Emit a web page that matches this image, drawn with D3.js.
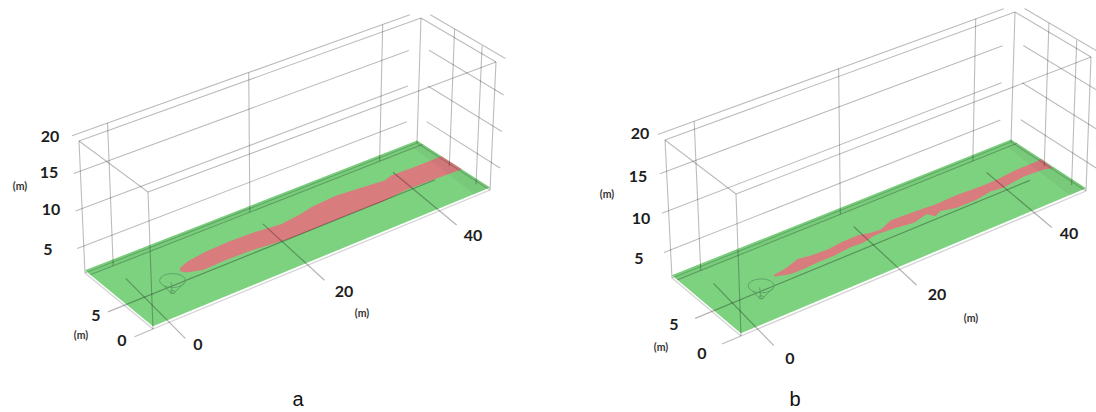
<!DOCTYPE html>
<html><head><meta charset="utf-8">
<script src="https://cdn.jsdelivr.net/npm/d3@7"></script>
<style>html,body{margin:0;padding:0;background:#fff}svg{display:block}</style>
</head><body><svg id="c" width="1096" height="412"></svg>
<script>
// ---- values (metres)
const xTicks = [0, 20, 40];
const yTicks = [0, 5, 10];
const zTicks = [5, 10, 15, 20];
const wallPostsY = [1.5, 6];
const coneAt = [4, 5];

const plumeAX = [6.4,6.7,8.2,11,14.5,18.2,21.9,25.3,27.2,31,34.3,38.1,39.4,43.4,47.3,47.3,43.7,39.2,35.3,31.3,26.2,21.1,16.1,12.3,8.9,6.9];
const plumeAY = [6.3,6.7,7.1,7.4,7.5,7.4,7.1,7.4,7.7,7.9,7.7,7.4,7.7,7.6,7.6,4.95,5.1,5.2,4.9,5,5,5,5.4,5.5,5.4,5.9];
const plumeBX = [6.9,8.8,11,12.7,15,17.2,19.5,21.1,22.5,24.6,27,29.5,30.9,34.1,37.8,40.4,43.1,46.7,47.3,47.1,46.1,43.3,39.8,38.2,35.8,32.8,30.8,29.6,29,26.7,24.4,22.1,21.1,19.3,17.5,14.9,12.6,10.5,8.7,6.9];
const plumeBY = [6.2,6.4,6.9,6.7,6.6,6.8,6.8,6.5,6.4,7,6.9,6.8,6.7,6.8,6.65,6.7,6.9,6.9,7,5.3,5.6,5.75,5.4,5.6,5.3,5.3,5.7,5.35,6,5.6,5.85,6,6,5.7,5.8,5.6,5.6,5.5,5.55,6];

const captions = ["a", "b"];
const unitLabel = "(m)";

// ---- scales: metres -> fraction of the box
const xMin = -2.8, xMax = 47.3, yMax = 10.75, zMin = 2.5, zMax = 20, zFloor = 2.85;
const tScale = d3.scaleLinear().domain([xMin, 0, 20, 40, xMax]).range([0, .057, .468, .858, 1]);
const vScale = d3.scaleLinear().domain([0, 5, 10, yMax]).range([0, .39, .92, 1]);
const hScale = d3.scaleLinear().domain([zMin, zMax]).range([0, 1]);
const skewFade = d3.scaleLinear().domain([0, .05, .95, 1]).range([0, 1, 1, 0]).clamp(true);

// ---- box corners per panel: [x,y] on screen
const panels = [
 {caption:captions[0], capX:298,
  fl:[153,329], fr:[490,190], bl:[85,273], br:[417,143],
  tfl:[148,192], tfr:[496,62], tbl:[79,141], tbr:[421,18],
  plumeX:plumeAX, plumeY:plumeAY,
  labels:[["20",50,135],["15",49,171],["10",51,208],["5",48,248],["5",96,314],["0",122,339],["0",198,343],["20",344,290],["40",473,234]],
  units:[[20,186],[81,335],[362,313]]},
 {caption:captions[1], capX:795,
  fl:[741,336], fr:[1086,191], bl:[672,278], br:[1011,142],
  tfl:[736,194], tfr:[1091,57], tbl:[665,140], tbr:[1015,12],
  plumeX:plumeBX, plumeY:plumeBY,
  labels:[["20",640,132],["15",638,175],["10",641,217],["5",639,257],["5",674,323],["0",702,352],["0",790,357],["20",937,293],["40",1069,232]],
  units:[[607,194],[661,347],[971,318]]}
];

const mix = (a,b,k)=>[a[0]+(b[0]-a[0])*k, a[1]+(b[1]-a[1])*k];
function projector(p){
  return (x,y,z)=>{
    const v = vScale(y), t0 = tScale(x), t = t0 + (v-.5)*.028*skewFade(t0), h = hScale(z);
    const bot = mix(mix(p.fl,p.fr,t), mix(p.bl,p.br,t), v);
    const top = mix(mix(p.tfl,p.tfr,t), mix(p.tbl,p.tbr,t), v);
    return mix(bot,top,h);
  };
}

const svg = d3.select("#c");
const line = d3.line();
const GRID = "#bcbcbc";

panels.forEach(p=>{
  const P = projector(p);
  const g = svg.append("g").style("filter","blur(.45px)");
  const poly = (pts,fill)=>g.append("path").attr("d",line(pts)+"Z").attr("fill",fill);
  const seg = (a,b,w,c)=>g.append("path").attr("d",line([a,b])).attr("fill","none")
      .attr("stroke",c||GRID).attr("stroke-width",w||1.1).style("mix-blend-mode","multiply");

  // floor
  poly([P(xMin,0,zFloor),P(xMax,0,zFloor),P(xMax,yMax,zFloor),P(xMin,yMax,zFloor)],"#7cd27f");
  // plume
  poly(p.plumeX.map((x,i)=>P(x,p.plumeY[i],zFloor)),"#d97c7e");
  // darker strips at the far sides of the floor
  poly([P(xMin,10,zFloor),P(xMax,10,zFloor),P(xMax,yMax,zFloor),P(xMin,yMax,zFloor)],"rgba(50,120,60,.05)");
  poly([P(45.4,0,zFloor),P(xMax,0,zFloor),P(xMax,10,zFloor),P(45.4,10,zFloor)],"rgba(60,70,50,.06)");

  // box
  const B=[[xMin,0],[xMax,0],[xMax,yMax],[xMin,yMax]];
  B.forEach((c,i)=>{
    const n=B[(i+1)%4];
    seg(P(c[0],c[1],zMin),P(n[0],n[1],zMin),1.2,"#d2d2d2");
    seg(P(c[0],c[1],zMax),P(n[0],n[1],zMax));
    seg(P(c[0],c[1],zMin),P(c[0],c[1],zMax));
  });

  // height grid, back and right sides
  zTicks.forEach(z=>{
    seg(P(xMin,yMax+.95,z),P(46.5,yMax+.95,z));
    seg(P(xMax+1.4,yMax,z),P(xMax+1.4,0,z));
  });
  // posts
  xTicks.forEach(x=>seg(P(x,10,zFloor),P(x,10,21.8)));
  wallPostsY.forEach(y=>seg(P(46.6,y,zFloor),P(46.6,y,21.8)));
  // floor grid
  xTicks.forEach(x=>seg(P(x,-3.9,zFloor),P(x,8,zFloor),1.2,"#b4b4b4"));
  seg(P(-5.5,5,zFloor),P(43.4,5,zFloor),1.2,"#b4b4b4");
  seg(P(-5.5,0,zMin),P(xMin,0,zMin));
  seg(P(xMin,10,zFloor),P(xMax,10,zFloor),1.1,"#c4c4c4");

  // source cone
  const c = P(coneAt[0],coneAt[1],zFloor);
  const cone = g.append("g").attr("transform",`translate(${c[0]},${c[1]})`).attr("fill","none")
     .attr("stroke","#579a60").attr("stroke-width",.8);
  cone.append("ellipse").attr("cx",.5).attr("cy",-5.5).attr("rx",13).attr("ry",7);
  cone.append("path").attr("d","M-8,0 L-1,7 L2,7 L12,-3 M-1,-4 L0,6");
  cone.append("ellipse").attr("cx",.5).attr("cy",6).attr("rx",2.6).attr("ry",1.6);

  // text
  svg.selectAll(null).data(p.labels).enter().append("text")
    .attr("x",d=>d[1]).attr("y",d=>d[2]).attr("text-anchor","middle").attr("dominant-baseline","central")
    .attr("font-family","Lato, 'Open Sans', sans-serif").attr("font-weight",700).attr("font-size",16)
    .attr("fill","#1d1d1d").text(d=>d[0]);
  svg.selectAll(null).data(p.units).enter().append("text")
    .attr("x",d=>d[0]).attr("y",d=>d[1]).attr("text-anchor","middle").attr("dominant-baseline","central")
    .attr("font-family","Lato, 'Open Sans', sans-serif").attr("font-weight",700).attr("font-size",10.5)
    .attr("fill","#333").text(unitLabel);
  svg.append("text").attr("x",p.capX).attr("y",406).attr("text-anchor","middle")
    .attr("font-family","'Liberation Sans', Arial, sans-serif").attr("font-size",20).attr("fill","#111").text(p.caption);
});
</script></body></html>
